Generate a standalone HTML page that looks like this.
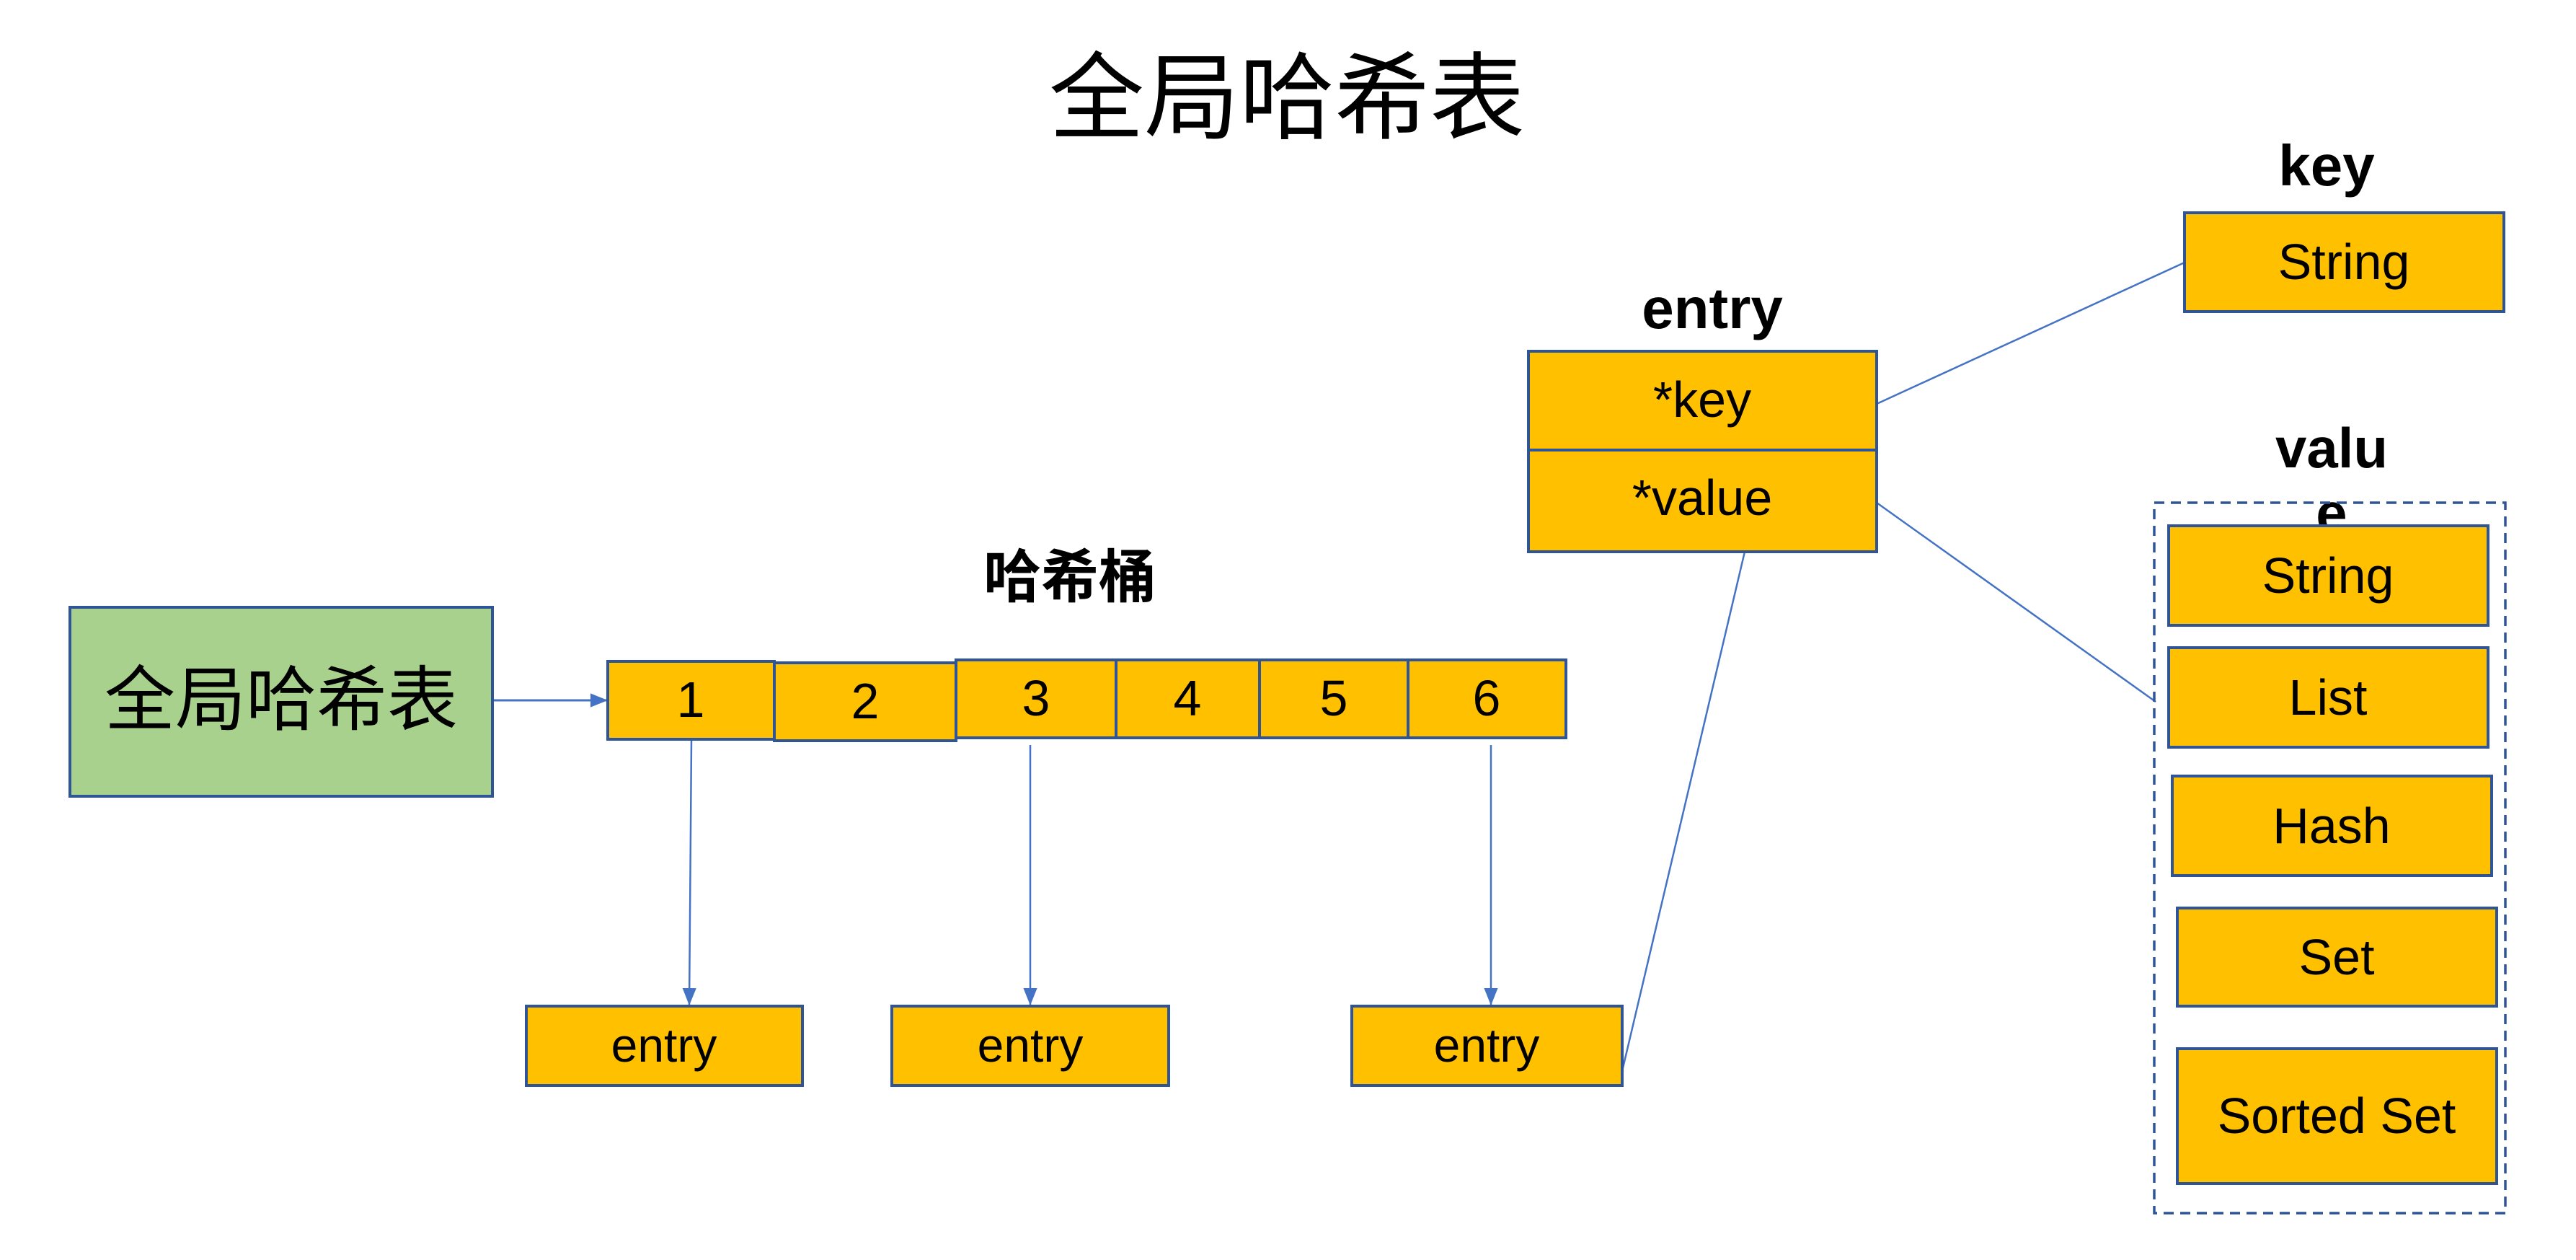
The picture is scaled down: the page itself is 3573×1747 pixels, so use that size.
<!DOCTYPE html>
<html><head><meta charset="utf-8"><style>
html,body{margin:0;padding:0;background:#fff;}
svg{display:block;}
text{font-family:"Liberation Sans","Noto Sans CJK SC",sans-serif;fill:#000;}
</style></head><body>
<svg width="3573" height="1747" viewBox="0 0 3573 1747" xmlns="http://www.w3.org/2000/svg">
<defs>
<marker id="ar" markerWidth="10" markerHeight="10" refX="9" refY="5" orient="auto" markerUnits="userSpaceOnUse" viewBox="0 0 10 10">
<path d="M0,0 L10,5 L0,10 z" fill="#4472C4"/>
</marker>
<marker id="ab" viewBox="0 0 10 10" refX="10" refY="5" markerWidth="24" markerHeight="24" orient="auto" markerUnits="userSpaceOnUse"><path d="M0,1 L10,5 L0,9 z" fill="#4472C4"/></marker>
</defs>
<text x="1785" y="182" font-size="132" text-anchor="middle">全局哈希表</text>

<rect x="97" y="842" width="586" height="262" fill="#A9D18E" stroke="#2F5597" stroke-width="4"/>
<text x="390" y="1004" font-size="98" text-anchor="middle">全局哈希表</text>
<line x1="685" y1="971" x2="843" y2="971" stroke="#4472C4" stroke-width="3" marker-end="url(#ab)"/>

<text x="1484" y="828" font-size="80" font-weight="bold" text-anchor="middle">哈希桶</text>
<g fill="#FFC000" stroke="#2F5597" stroke-width="4">
<rect x="843" y="917" width="231" height="108"/>
<rect x="1074" y="919" width="252" height="108"/>
<rect x="1326" y="915" width="222" height="108"/>
<rect x="1548" y="915" width="199" height="108"/>
<rect x="1747" y="915" width="206" height="108"/>
<rect x="1953" y="915" width="219" height="108"/>
</g>
<g font-size="70" text-anchor="middle">
<text x="958" y="994">1</text><text x="1200" y="996">2</text><text x="1437" y="992">3</text>
<text x="1647" y="992">4</text><text x="1850" y="992">5</text><text x="2062" y="992">6</text>
</g>

<g stroke="#4472C4" stroke-width="2.5">
<line x1="959" y1="1027" x2="956" y2="1394" marker-end="url(#ab)"/>
<line x1="1429" y1="1033" x2="1429" y2="1394" marker-end="url(#ab)"/>
<line x1="2068" y1="1033" x2="2068" y2="1394" marker-end="url(#ab)"/>
<line x1="2250" y1="1485" x2="2420" y2="765"/>
<line x1="2603" y1="560" x2="3030" y2="364"/>
<line x1="2603" y1="697" x2="2990" y2="973"/>
</g>

<g fill="#FFC000" stroke="#2F5597" stroke-width="4">
<rect x="730" y="1395" width="383" height="110"/>
<rect x="1237" y="1395" width="384" height="110"/>
<rect x="1875" y="1395" width="375" height="110"/>
</g>
<g font-size="66" text-anchor="middle">
<text x="921" y="1472">entry</text><text x="1429" y="1472">entry</text><text x="2062" y="1472">entry</text>
</g>

<text x="2375" y="455" font-size="80" font-weight="bold" text-anchor="middle">entry</text>
<rect x="2120" y="487" width="483" height="278" fill="#FFC000" stroke="#2F5597" stroke-width="4"/>
<line x1="2120" y1="624" x2="2603" y2="624" stroke="#2F5597" stroke-width="4"/>
<text x="2361" y="578" font-size="70" text-anchor="middle">*key</text>
<text x="2361" y="714" font-size="70" text-anchor="middle">*value</text>

<text x="3227" y="257" font-size="80" font-weight="bold" text-anchor="middle">key</text>
<rect x="3030" y="295" width="443" height="137" fill="#FFC000" stroke="#2F5597" stroke-width="4"/>
<text x="3251" y="387" font-size="70" text-anchor="middle">String</text>

<text x="3234" y="648" font-size="78" font-weight="bold" text-anchor="middle">valu</text>
<text x="3234" y="738" font-size="78" font-weight="bold" text-anchor="middle">e</text>
<rect x="2988" y="697" width="487" height="985" fill="none" stroke="#2F5597" stroke-width="3.5" stroke-dasharray="14,9"/>
<g fill="#FFC000" stroke="#2F5597" stroke-width="4">
<rect x="3008" y="729" width="443" height="138"/>
<rect x="3008" y="898" width="443" height="138"/>
<rect x="3013" y="1076" width="443" height="138"/>
<rect x="3020" y="1259" width="443" height="136"/>
<rect x="3020" y="1454" width="443" height="187"/>
</g>
<g font-size="70" text-anchor="middle">
<text x="3229" y="822">String</text>
<text x="3229" y="991">List</text>
<text x="3234" y="1169">Hash</text>
<text x="3241" y="1351">Set</text>
<text x="3241" y="1571">Sorted Set</text>
</g>
</svg>
</body></html>
